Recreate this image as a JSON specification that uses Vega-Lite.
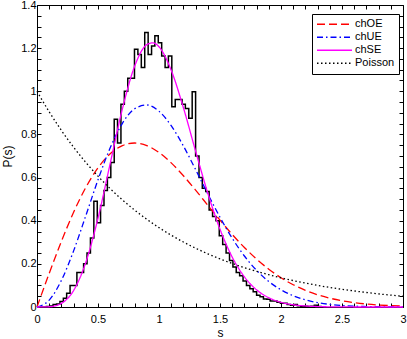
{
  "$schema": "https://vega.github.io/schema/vega-lite/v6.json",
  "width": 366,
  "height": 302,
  "autosize": {"type": "none"},
  "padding": {"left": 37, "top": 5, "right": 4, "bottom": 32},
  "background": "white",
  "config": {
    "view": {"stroke": null},
    "font": "Liberation Sans",
    "axis": {
      "domainColor": "#000000",
      "tickColor": "#000000",
      "labelColor": "#000000",
      "titleColor": "#000000",
      "labelFont": "Liberation Sans",
      "titleFont": "Liberation Sans",
      "labelFontSize": 11,
      "titleFontSize": 12,
      "titleFontWeight": "normal",
      "grid": false,
      "tickSize": -4,
      "domainWidth": 1,
      "tickWidth": 1
    },
    "legend": {
      "symbolType": "stroke",
      "symbolSize": 1225,
      "symbolStrokeWidth": 1.3,
      "clipHeight": 12.5,
      "rowPadding": 0,
      "labelFont": "Liberation Sans",
      "labelFontSize": 11,
      "labelColor": "#000000",
      "labelOffset": 2,
      "padding": 4,
      "fillColor": "white",
      "strokeColor": "#000000"
    }
  },
  "datasets": {
    "hist": [
      {"s": 0.021, "h": 0}, {"s": 0.049, "h": 0}, {"s": 0.077, "h": 0.002}, {"s": 0.104, "h": 0.005},
      {"s": 0.132, "h": 0.012}, {"s": 0.160, "h": 0.014}, {"s": 0.188, "h": 0.025}, {"s": 0.216, "h": 0.040},
      {"s": 0.243, "h": 0.064}, {"s": 0.271, "h": 0.100}, {"s": 0.299, "h": 0.100}, {"s": 0.327, "h": 0.160},
      {"s": 0.355, "h": 0.160}, {"s": 0.382, "h": 0.200}, {"s": 0.410, "h": 0.250}, {"s": 0.438, "h": 0.320},
      {"s": 0.466, "h": 0.490}, {"s": 0.494, "h": 0.390}, {"s": 0.521, "h": 0.470}, {"s": 0.549, "h": 0.540},
      {"s": 0.577, "h": 0.600}, {"s": 0.605, "h": 0.670}, {"s": 0.633, "h": 0.870}, {"s": 0.660, "h": 0.760},
      {"s": 0.688, "h": 0.940}, {"s": 0.716, "h": 1.000}, {"s": 0.744, "h": 1.060}, {"s": 0.772, "h": 1.060},
      {"s": 0.799, "h": 1.195}, {"s": 0.827, "h": 1.170}, {"s": 0.855, "h": 1.110}, {"s": 0.883, "h": 1.272},
      {"s": 0.911, "h": 1.170}, {"s": 0.939, "h": 1.210}, {"s": 0.966, "h": 1.258}, {"s": 0.994, "h": 1.225},
      {"s": 1.022, "h": 1.164}, {"s": 1.050, "h": 1.110}, {"s": 1.077, "h": 1.164}, {"s": 1.105, "h": 0.928},
      {"s": 1.133, "h": 0.962}, {"s": 1.161, "h": 0.962}, {"s": 1.189, "h": 0.940}, {"s": 1.216, "h": 0.920},
      {"s": 1.244, "h": 0.875}, {"s": 1.272, "h": 0.998}, {"s": 1.300, "h": 0.700}, {"s": 1.328, "h": 0.600},
      {"s": 1.355, "h": 0.550}, {"s": 1.383, "h": 0.535}, {"s": 1.411, "h": 0.450}, {"s": 1.439, "h": 0.420},
      {"s": 1.467, "h": 0.400}, {"s": 1.494, "h": 0.330}, {"s": 1.522, "h": 0.290}, {"s": 1.550, "h": 0.250},
      {"s": 1.578, "h": 0.215}, {"s": 1.606, "h": 0.185}, {"s": 1.633, "h": 0.160}, {"s": 1.661, "h": 0.145},
      {"s": 1.689, "h": 0.120}, {"s": 1.717, "h": 0.100}, {"s": 1.745, "h": 0.085}, {"s": 1.772, "h": 0.071},
      {"s": 1.800, "h": 0.055}, {"s": 1.828, "h": 0.048}, {"s": 1.856, "h": 0.037}, {"s": 1.884, "h": 0.036},
      {"s": 1.911, "h": 0.028}, {"s": 1.939, "h": 0.028}, {"s": 1.967, "h": 0.022}, {"s": 1.995, "h": 0.017},
      {"s": 2.023, "h": 0.017}, {"s": 2.050, "h": 0.012}, {"s": 2.078, "h": 0.008}, {"s": 2.106, "h": 0.012},
      {"s": 2.134, "h": 0.006}, {"s": 2.162, "h": 0.004}, {"s": 2.189, "h": 0.003}, {"s": 2.217, "h": 0.002},
      {"s": 2.245, "h": 0.003}, {"s": 2.273, "h": 0.008}, {"s": 2.301, "h": 0.002}, {"s": 2.328, "h": 0},
      {"s": 2.356, "h": 0}
    ],
    "curves": [
      {"s": 0.0, "P": 0, "c": "chOE"}, {"s": 0.1, "P": 0.1559, "c": "chOE"}, {"s": 0.2, "P": 0.3044, "c": "chOE"},
      {"s": 0.3, "P": 0.4391, "c": "chOE"}, {"s": 0.4, "P": 0.5541, "c": "chOE"}, {"s": 0.5, "P": 0.6454, "c": "chOE"},
      {"s": 0.6, "P": 0.7104, "c": "chOE"}, {"s": 0.7, "P": 0.7483, "c": "chOE"}, {"s": 0.8, "P": 0.7602, "c": "chOE"},
      {"s": 0.9, "P": 0.7483, "c": "chOE"}, {"s": 1.0, "P": 0.7162, "c": "chOE"}, {"s": 1.1, "P": 0.6680, "c": "chOE"},
      {"s": 1.2, "P": 0.6083, "c": "chOE"}, {"s": 1.3, "P": 0.5416, "c": "chOE"}, {"s": 1.4, "P": 0.4718, "c": "chOE"},
      {"s": 1.5, "P": 0.4025, "c": "chOE"}, {"s": 1.6, "P": 0.3365, "c": "chOE"}, {"s": 1.7, "P": 0.2759, "c": "chOE"},
      {"s": 1.8, "P": 0.2220, "c": "chOE"}, {"s": 1.9, "P": 0.1753, "c": "chOE"}, {"s": 2.0, "P": 0.1358, "c": "chOE"},
      {"s": 2.1, "P": 0.1033, "c": "chOE"}, {"s": 2.2, "P": 0.0772, "c": "chOE"}, {"s": 2.3, "P": 0.0567, "c": "chOE"},
      {"s": 2.4, "P": 0.0409, "c": "chOE"}, {"s": 2.5, "P": 0.0290, "c": "chOE"}, {"s": 2.6, "P": 0.0202, "c": "chOE"},
      {"s": 2.7, "P": 0.0138, "c": "chOE"}, {"s": 2.8, "P": 0.0093, "c": "chOE"}, {"s": 2.9, "P": 0.0062, "c": "chOE"},
      {"s": 3.0, "P": 0.0040, "c": "chOE"},
      {"s": 0.0, "P": 0, "c": "chUE"}, {"s": 0.1, "P": 0.0320, "c": "chUE"}, {"s": 0.2, "P": 0.1233, "c": "chUE"},
      {"s": 0.3, "P": 0.2602, "c": "chUE"}, {"s": 0.4, "P": 0.4232, "c": "chUE"}, {"s": 0.5, "P": 0.5896, "c": "chUE"},
      {"s": 0.6, "P": 0.7380, "c": "chUE"}, {"s": 0.7, "P": 0.8514, "c": "chUE"}, {"s": 0.8, "P": 0.9187, "c": "chUE"},
      {"s": 0.9, "P": 0.9364, "c": "chUE"}, {"s": 1.0, "P": 0.9076, "c": "chUE"}, {"s": 1.1, "P": 0.8406, "c": "chUE"},
      {"s": 1.2, "P": 0.7464, "c": "chUE"}, {"s": 1.3, "P": 0.6372, "c": "chUE"}, {"s": 1.4, "P": 0.5240, "c": "chUE"},
      {"s": 1.5, "P": 0.4159, "c": "chUE"}, {"s": 1.6, "P": 0.3189, "c": "chUE"}, {"s": 1.7, "P": 0.2364, "c": "chUE"},
      {"s": 1.8, "P": 0.1698, "c": "chUE"}, {"s": 1.9, "P": 0.1181, "c": "chUE"}, {"s": 2.0, "P": 0.0796, "c": "chUE"},
      {"s": 2.1, "P": 0.0521, "c": "chUE"}, {"s": 2.2, "P": 0.0331, "c": "chUE"}, {"s": 2.3, "P": 0.0204, "c": "chUE"},
      {"s": 2.4, "P": 0.0122, "c": "chUE"}, {"s": 2.5, "P": 0.0071, "c": "chUE"}, {"s": 2.6, "P": 0.0040, "c": "chUE"},
      {"s": 2.7, "P": 0.0022, "c": "chUE"}, {"s": 2.8, "P": 0.0011, "c": "chUE"}, {"s": 2.9, "P": 0.0006, "c": "chUE"},
      {"s": 3.0, "P": 0.0003, "c": "chUE"},
      {"s": 0.0, "P": 0, "c": "chSE"}, {"s": 0.1, "P": 0.0011, "c": "chSE"}, {"s": 0.2, "P": 0.0169, "c": "chSE"},
      {"s": 0.3, "P": 0.0766, "c": "chSE"}, {"s": 0.4, "P": 0.2067, "c": "chSE"}, {"s": 0.5, "P": 0.4116, "c": "chSE"},
      {"s": 0.6, "P": 0.6654, "c": "chSE"}, {"s": 0.7, "P": 0.9184, "c": "chSE"}, {"s": 0.8, "P": 1.1158, "c": "chSE"},
      {"s": 0.9, "P": 1.2163, "c": "chSE"}, {"s": 0.95, "P": 1.2247, "c": "chSE"}, {"s": 1.0, "P": 1.2062, "c": "chSE"},
      {"s": 1.1, "P": 1.0977, "c": "chSE"}, {"s": 1.2, "P": 0.9239, "c": "chSE"}, {"s": 1.3, "P": 0.7224, "c": "chSE"},
      {"s": 1.4, "P": 0.5273, "c": "chSE"}, {"s": 1.5, "P": 0.3605, "c": "chSE"}, {"s": 1.6, "P": 0.2313, "c": "chSE"},
      {"s": 1.7, "P": 0.1397, "c": "chSE"}, {"s": 1.8, "P": 0.0795, "c": "chSE"}, {"s": 1.9, "P": 0.0428, "c": "chSE"},
      {"s": 2.0, "P": 0.0217, "c": "chSE"}, {"s": 2.1, "P": 0.0104, "c": "chSE"}, {"s": 2.2, "P": 0.0048, "c": "chSE"},
      {"s": 2.3, "P": 0.0020, "c": "chSE"}, {"s": 2.4, "P": 0.0008, "c": "chSE"}, {"s": 2.5, "P": 0.0003, "c": "chSE"},
      {"s": 2.6, "P": 0.0001, "c": "chSE"}, {"s": 2.7, "P": 0, "c": "chSE"}, {"s": 2.8, "P": 0, "c": "chSE"},
      {"s": 2.9, "P": 0, "c": "chSE"}, {"s": 3.0, "P": 0, "c": "chSE"},
      {"s": 0.0, "P": 1.0, "c": "Poisson"}, {"s": 0.1, "P": 0.9048, "c": "Poisson"}, {"s": 0.2, "P": 0.8187, "c": "Poisson"},
      {"s": 0.3, "P": 0.7408, "c": "Poisson"}, {"s": 0.4, "P": 0.6703, "c": "Poisson"}, {"s": 0.5, "P": 0.6065, "c": "Poisson"},
      {"s": 0.6, "P": 0.5488, "c": "Poisson"}, {"s": 0.7, "P": 0.4966, "c": "Poisson"}, {"s": 0.8, "P": 0.4493, "c": "Poisson"},
      {"s": 0.9, "P": 0.4066, "c": "Poisson"}, {"s": 1.0, "P": 0.3679, "c": "Poisson"}, {"s": 1.1, "P": 0.3329, "c": "Poisson"},
      {"s": 1.2, "P": 0.3012, "c": "Poisson"}, {"s": 1.3, "P": 0.2725, "c": "Poisson"}, {"s": 1.4, "P": 0.2466, "c": "Poisson"},
      {"s": 1.5, "P": 0.2231, "c": "Poisson"}, {"s": 1.6, "P": 0.2019, "c": "Poisson"}, {"s": 1.7, "P": 0.1827, "c": "Poisson"},
      {"s": 1.8, "P": 0.1653, "c": "Poisson"}, {"s": 1.9, "P": 0.1496, "c": "Poisson"}, {"s": 2.0, "P": 0.1353, "c": "Poisson"},
      {"s": 2.1, "P": 0.1225, "c": "Poisson"}, {"s": 2.2, "P": 0.1108, "c": "Poisson"}, {"s": 2.3, "P": 0.1003, "c": "Poisson"},
      {"s": 2.4, "P": 0.0907, "c": "Poisson"}, {"s": 2.5, "P": 0.0821, "c": "Poisson"}, {"s": 2.6, "P": 0.0743, "c": "Poisson"},
      {"s": 2.7, "P": 0.0672, "c": "Poisson"}, {"s": 2.8, "P": 0.0608, "c": "Poisson"}, {"s": 2.9, "P": 0.0550, "c": "Poisson"},
      {"s": 3.0, "P": 0.0498, "c": "Poisson"}
    ]
  },
  "resolve": {"axis": {"x": "independent", "y": "independent"}},
  "layer": [
    {
      "data": {"name": "hist"},
      "mark": {"type": "line", "interpolate": "step-after", "color": "#000000", "strokeWidth": 1.5},
      "encoding": {
        "x": {
          "field": "s", "type": "quantitative",
          "scale": {"domain": [0, 3], "nice": false, "zero": false},
          "axis": {
            "orient": "bottom", "title": "s", "titlePadding": 3,
            "values": [0,0.1,0.2,0.3,0.4,0.5,0.6,0.7,0.8,0.9,1,1.1,1.2,1.3,1.4,1.5,1.6,1.7,1.8,1.9,2,2.1,2.2,2.3,2.4,2.5,2.6,2.7,2.8,2.9,3],
            "labelExpr": "abs(datum.value*2 - round(datum.value*2)) < 0.001 ? format(datum.value, '~g') : ''",
            "labelPadding": 10,
            "labelFlush": false,
            "labelOverlap": false
          }
        },
        "y": {
          "field": "h", "type": "quantitative",
          "scale": {"domain": [0, 1.4], "nice": false},
          "axis": {
            "orient": "left", "title": "P(s)", "titlePadding": 6,
            "values": [0,0.05,0.1,0.15,0.2,0.25,0.3,0.35,0.4,0.45,0.5,0.55,0.6,0.65,0.7,0.75,0.8,0.85,0.9,0.95,1,1.05,1.1,1.15,1.2,1.25,1.3,1.35,1.4],
            "labelExpr": "abs(datum.value*5 - round(datum.value*5)) < 0.001 ? format(datum.value, '~g') : ''",
            "labelPadding": 5,
            "labelFlush": false,
            "labelOverlap": false
          }
        }
      }
    },
    {
      "data": {"name": "curves"},
      "mark": {"type": "line", "interpolate": "monotone", "strokeWidth": 1.3},
      "encoding": {
        "x": {
          "field": "s", "type": "quantitative",
          "axis": {
            "orient": "top", "title": null, "labels": false,
            "values": [0,0.1,0.2,0.3,0.4,0.5,0.6,0.7,0.8,0.9,1,1.1,1.2,1.3,1.4,1.5,1.6,1.7,1.8,1.9,2,2.1,2.2,2.3,2.4,2.5,2.6,2.7,2.8,2.9,3]
          }
        },
        "y": {
          "field": "P", "type": "quantitative",
          "axis": {
            "orient": "right", "title": null, "labels": false,
            "values": [0,0.05,0.1,0.15,0.2,0.25,0.3,0.35,0.4,0.45,0.5,0.55,0.6,0.65,0.7,0.75,0.8,0.85,0.9,0.95,1,1.05,1.1,1.15,1.2,1.25,1.3,1.35,1.4]
          }
        },
        "color": {
          "field": "c", "type": "nominal",
          "scale": {"domain": ["chOE", "chUE", "chSE", "Poisson"], "range": ["#ff0000", "#0000ff", "#ff00ff", "#000000"]},
          "legend": {"orient": "none", "legendX": 275, "legendY": 9, "title": null}
        },
        "strokeDash": {
          "field": "c", "type": "nominal",
          "scale": {"domain": ["chOE", "chUE", "chSE", "Poisson"], "range": [[8, 4], [6, 3, 1.5, 3], [1, 0], [1.5, 2.5]]},
          "legend": {"orient": "none", "legendX": 275, "legendY": 9, "title": null}
        }
      }
    }
  ]
}
